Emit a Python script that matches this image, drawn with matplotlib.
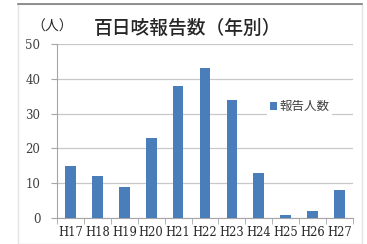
import matplotlib
matplotlib.use('Agg')
import matplotlib.pyplot as plt
from matplotlib.patches import Rectangle
from matplotlib.lines import Line2D

# data
years = ['H17', 'H18', 'H19', 'H20', 'H21', 'H22', 'H23', 'H24', 'H25', 'H26', 'H27']
cases = [15, 12, 9, 23, 38, 43, 34, 13, 1, 2, 8]
y_ticks = [0, 10, 20, 30, 40, 50]

DPI = 100
fig = plt.figure(figsize=(367/DPI, 244/DPI), dpi=DPI)
jp = ['Noto Sans CJK JP', 'DejaVu Sans']
serif = ['DejaVu Serif']

# outer chart frame
fig.patches.append(Rectangle((18/367, 0), 344/367, 1 - 4/244, transform=fig.transFigure,
                             fill=False, edgecolor='#e4e4e4', linewidth=1))
fig.add_artist(Line2D([18/367, 362/367], [1 - 4/244, 1 - 4/244], transform=fig.transFigure,
                      color='#7f7f7f', linewidth=1.2))

ax = fig.add_axes([57/367, 1 - 218/244, 296/367, 174/244])
ax.bar(range(len(years)), cases, width=0.4, color='#4a7ebb', zorder=3, label='報告人数')
ax.set_xlim(-0.5, len(years) - 0.5)
ax.set_ylim(0, 50)
ax.set_yticks(y_ticks)
ax.set_yticklabels([str(v) for v in y_ticks], family=serif, fontsize=8.5, color='#404040')
ax.set_xticks(range(len(years)))
ax.set_xticklabels(years, family=serif, fontsize=8.3, color='#262626')
ax.set_xticks([i + 0.5 for i in range(-1, len(years))], minor=True)
ax.tick_params(axis='x', which='major', length=0, pad=6)
ax.tick_params(axis='x', which='minor', length=4, color='#a6a6a6')
ax.tick_params(axis='y', length=4, color='#a6a6a6', pad=8)
ax.grid(axis='y', color='#c8c8c8', linewidth=0.9, zorder=0)
for s in ['top', 'right']:
    ax.spines[s].set_visible(False)
ax.spines['left'].set_color('#a6a6a6')
ax.spines['bottom'].set_color('#a6a6a6')

leg = ax.legend(loc='center left', bbox_to_anchor=(0.69, 0.64), prop={'family': jp, 'size': 9},
                frameon=True, facecolor='white', edgecolor='none', framealpha=1,
                handlelength=0.6, handleheight=0.6, handletextpad=0.2, borderpad=0.2,
                fancybox=False)
for t in leg.get_texts():
    t.set_color('#404040')

fig.text(52/367, 1 - 27/244, '（人）', family=jp, fontsize=10, ha='center', va='center', color='#262626')
fig.text(188/367, 1 - 28/244, '百日咳報告数（年別）', family=jp, fontsize=13.5, ha='center', va='center',
         color='#262626', fontweight='medium')

plt.savefig('out.png', dpi=DPI)
